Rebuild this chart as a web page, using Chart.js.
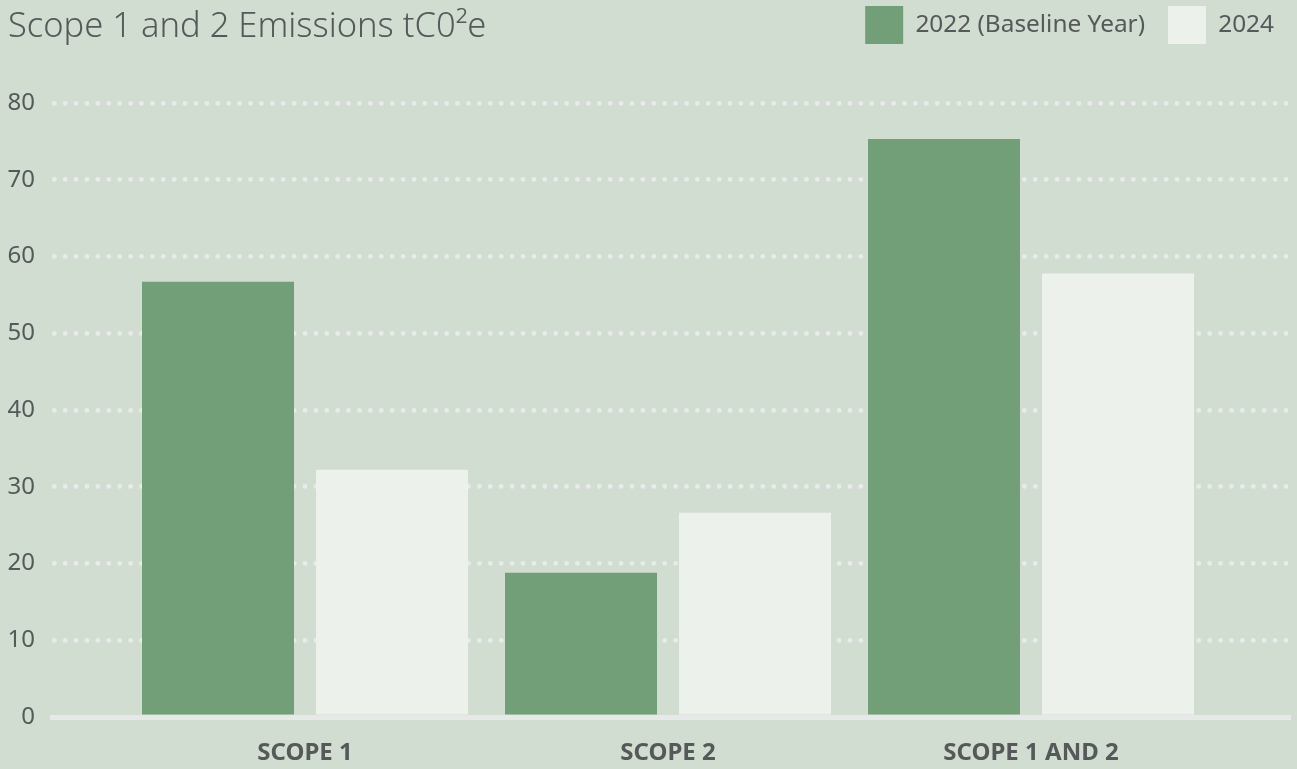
<!DOCTYPE html>
<html>
<head>
<meta charset="utf-8">
<script src="https://cdn.jsdelivr.net/npm/chart.js@4"></script>
<style>
  html, body { margin: 0; padding: 0; background: #d2ddd1; }
  #wrap { position: relative; width: 1297px; height: 769px; }
</style>
</head>
<body>
<div id="wrap"><canvas id="c" width="1297" height="769"></canvas></div>
<script>
const titleText = 'Scope 1 and 2 Emissions tC0\u00B2e';
const categories = ['SCOPE 1', 'SCOPE 2', 'SCOPE 1 AND 2'];
const seriesNames = ['2022 (Baseline Year)', '2024'];
const values2022 = [56.7, 18.8, 75.3];
const values2024 = [32.2, 26.6, 57.8];
const yTicks = [0, 10, 20, 30, 40, 50, 60, 70, 80];

const TEXT = '#55595a';
const FONT = "'Noto Sans', 'Open Sans', sans-serif";

const layoutPlugin = {
  id: 'layoutTweaks',
  beforeLayout(chart) {
    const lg = chart.legend;
    if (lg && !lg._fitWrapped) {
      const f = lg.fit;
      lg.fit = function () { f.call(this); this.height += 32; };
      lg._fitWrapped = true;
    }
    const tb = chart.titleBlock;
    if (tb && !tb._updWrapped) {
      const u = tb.update;
      tb.update = function (a, b, c) { u.call(this, a, b, c); this.height = 0; this.bottom = this.top; };
      tb._updWrapped = true;
    }
  },
  afterLayout(chart) {
    const lg = chart.legend;
    if (lg) { lg.top -= 17; lg.bottom -= 17; lg.left += 7; lg.right += 7; }
  },
  beforeDraw(chart) { chart.ctx.lineCap = 'round'; },
  afterDatasetsDraw(chart) { chart.ctx.lineCap = 'butt'; }
};

new Chart(document.getElementById('c'), {
  type: 'bar',
  data: {
    labels: categories,
    datasets: [
      { label: seriesNames[0], data: values2022, backgroundColor: '#739f78', borderWidth: 0 },
      { label: seriesNames[1], data: values2024, backgroundColor: '#ecf1eb', borderWidth: 0 }
    ]
  },
  options: {
    responsive: false,
    animation: false,
    devicePixelRatio: 1,
    categoryPercentage: 0.9587,
    barPercentage: 0.8736,
    layout: { padding: { left: 8, right: 7, top: 0, bottom: 2 } },
    plugins: {
      title: {
        display: true,
        text: titleText,
        align: 'start',
        color: TEXT,
        font: { family: FONT, size: 34.5, weight: '300' },
        padding: { top: 6, bottom: 0 }
      },
      legend: {
        position: 'top',
        align: 'end',
        labels: {
          boxWidth: 38,
          boxHeight: 38,
          padding: 23,
          color: TEXT,
          font: { family: FONT, size: 24.4 }
        }
      },
      tooltip: { enabled: false }
    },
    scales: {
      x: {
        grid: { display: false, drawTicks: false },
        border: { display: true, color: '#e7e9e8', width: 5, z: 1 },
        ticks: { color: TEXT, padding: 22, font: { family: FONT, size: 24, weight: 'bold' } },
        afterBuildTicks(scale) {
          scale._startValue = -0.697;
          scale._valueRange = 3.4105;
        },
        afterFit(scale) {
          scale.paddingLeft = 0; scale.paddingRight = 0;
          scale.height = 50;
        },
        afterUpdate(scale) {
          scale._startValue = -0.697;
          scale._valueRange = 3.4105;
        }
      },
      y: {
        min: yTicks[0],
        max: yTicks[yTicks.length - 1],
        afterBuildTicks(scale) { scale.ticks = yTicks.map(v => ({ value: v })); },
        afterFit(scale) { scale.width = 44; },
        grid: { color: '#e9eaeb', lineWidth: 4.8, drawTicks: false },
        border: { display: false, dash: [0, 10.9], dashOffset: 8.6 },
        ticks: { color: TEXT, padding: 17, font: { family: FONT, size: 24 } }
      }
    }
  },
  plugins: [layoutPlugin]
});
</script>
</body>
</html>
